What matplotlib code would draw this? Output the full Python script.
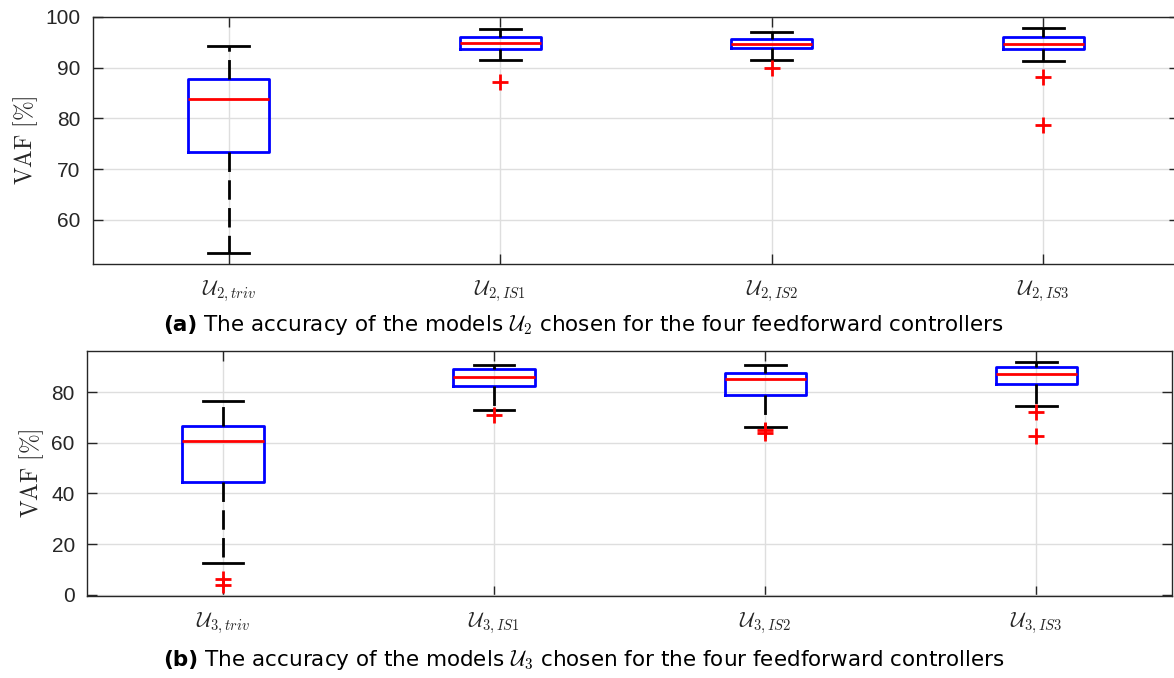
import matplotlib
matplotlib.use('Agg')
import matplotlib.pyplot as plt

plt.rcParams['mathtext.fontset'] = 'cm'
plt.rcParams['font.family'] = ['Liberation Sans', 'DejaVu Sans']

# Box statistics (VAF in %)
labels_u2 = [r'$\mathcal{U}_{2,triv}$', r'$\mathcal{U}_{2,IS1}$', r'$\mathcal{U}_{2,IS2}$', r'$\mathcal{U}_{2,IS3}$']
med_u2 = [83.9, 94.8, 94.6, 94.7]
q1_u2 = [73.4, 93.7, 93.9, 93.7]
q3_u2 = [87.8, 96.0, 95.6, 96.0]
lo_u2 = [53.4, 91.5, 91.5, 91.3]
hi_u2 = [94.2, 97.6, 97.0, 97.8]
fl_u2 = [[], [87.1], [90.0], [88.1, 78.7]]

labels_u3 = [r'$\mathcal{U}_{3,triv}$', r'$\mathcal{U}_{3,IS1}$', r'$\mathcal{U}_{3,IS2}$', r'$\mathcal{U}_{3,IS3}$']
med_u3 = [60.6, 86.1, 85.1, 87.2]
q1_u3 = [44.7, 82.4, 79.0, 83.4]
q3_u3 = [66.7, 89.0, 87.7, 89.8]
lo_u3 = [12.7, 72.9, 66.2, 74.6]
hi_u3 = [76.6, 90.6, 90.6, 91.8]
fl_u3 = [[6.2, 3.9], [70.9], [65.1, 63.8], [72.2, 62.8]]

caption_a = r'The accuracy of the models $\mathcal{U}_2$ chosen for the four feedforward controllers'
caption_b = r'The accuracy of the models $\mathcal{U}_3$ chosen for the four feedforward controllers'


def draw(ax, med, q1, q3, lo, hi, fl, labels, ylim, yticks):
    stats = []
    for i in range(len(med)):
        stats.append(dict(med=med[i], q1=q1[i], q3=q3[i], whislo=lo[i], whishi=hi[i], fliers=fl[i]))
    ax.bxp(stats, positions=[1, 2, 3, 4], widths=0.30, capwidths=0.15,
           boxprops=dict(color='blue', lw=2),
           medianprops=dict(color='red', lw=2),
           whiskerprops=dict(color='black', lw=2, linestyle=(0, (7, 3))),
           capprops=dict(color='black', lw=2),
           flierprops=dict(marker='+', markeredgecolor='red', markersize=11, mew=2))
    ax.set_xlim(0.5, 4.5)
    ax.set_ylim(*ylim)
    ax.set_yticks(yticks)
    ax.set_xticks([1, 2, 3, 4])
    ax.set_xticklabels(labels, fontsize=15, color='#262626')
    ax.tick_params(axis='y', labelsize=15, labelcolor='#262626', pad=9)
    ax.tick_params(direction='in', length=7, width=1, top=True, right=True, color='#262626')
    ax.tick_params(axis='x', pad=10)
    ax.set_axisbelow(True)
    ax.grid(True, color='#dedede', lw=1)
    for s in ax.spines.values():
        s.set_color('#262626')
        s.set_linewidth(1)
    ax.set_ylabel(r'$\mathrm{VAF\ [\%]}$', fontsize=17, color='#262626', labelpad=4)


fig = plt.figure(figsize=(11.74, 6.78), dpi=100)

ax1 = fig.add_axes([93 / 1174, 1 - 264 / 678, 1086 / 1174, 247 / 678])
draw(ax1, med_u2, q1_u2, q3_u2, lo_u2, hi_u2, fl_u2, labels_u2, (51.3, 100), [60, 70, 80, 90, 100])

ax2 = fig.add_axes([87.3 / 1174, 1 - 596 / 678, 1084.7 / 1174, 245.3 / 678])
draw(ax2, med_u3, q1_u3, q3_u3, lo_u3, hi_u3, fl_u3, labels_u3, (-0.5, 96.4), [0, 20, 40, 60, 80])

# captions: bold tag, then the rest of the sentence right after it
ta = fig.text(163 / 1174, 1 - 325 / 678, '(a)', fontsize=15.5, fontweight='bold', va='center', family='DejaVu Sans')
ax1.annotate(' ' + caption_a, xy=(1, 0.5), xycoords=ta, va='center', ha='left', fontsize=15.5,
             family='DejaVu Sans', annotation_clip=False)

tb = fig.text(163 / 1174, 1 - 660 / 678, '(b)', fontsize=15.5, fontweight='bold', va='center', family='DejaVu Sans')
ax2.annotate(' ' + caption_b, xy=(1, 0.5), xycoords=tb, va='center', ha='left', fontsize=15.5,
             family='DejaVu Sans', annotation_clip=False)

fig.savefig('out.png', dpi=100)
